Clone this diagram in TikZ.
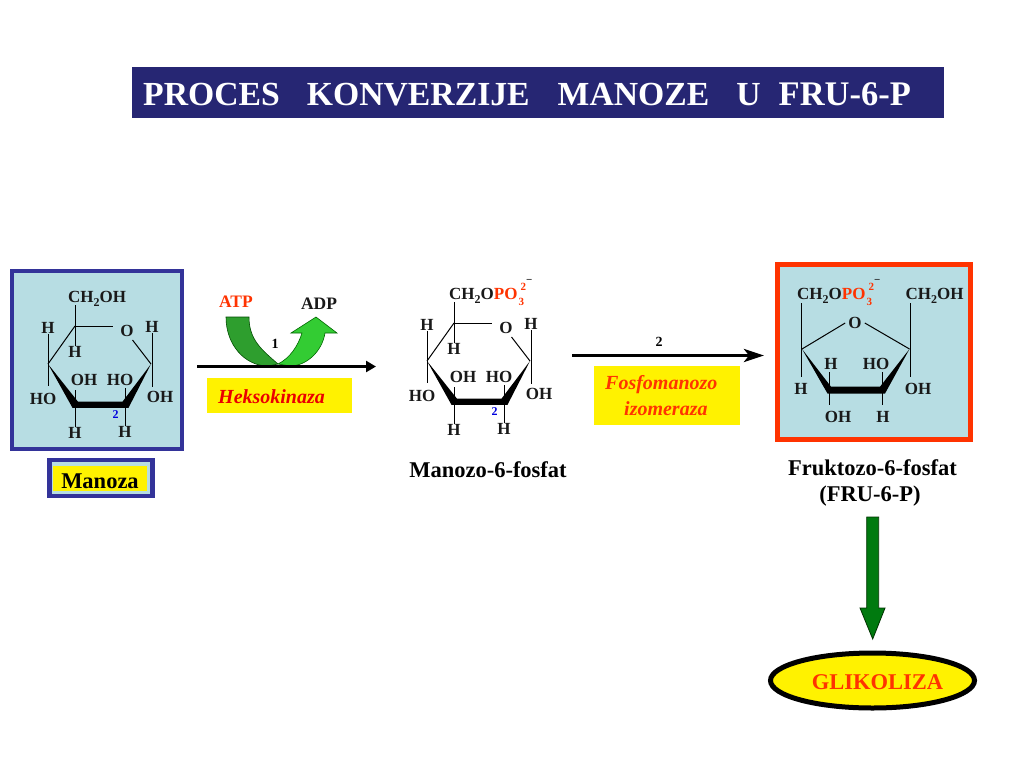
\documentclass[tikz,border=0pt]{standalone}
\usepackage{fontspec}
\setmainfont{Liberation Serif}
\usetikzlibrary{shapes.geometric,arrows.meta}
\definecolor{navy}{HTML}{262673}
\definecolor{frameblue}{HTML}{333399}
\definecolor{paleblue}{HTML}{B7DDE3}
\definecolor{redorange}{HTML}{FF3300}
\definecolor{atpgreen}{HTML}{2E9E2E}
\definecolor{adpgreen}{HTML}{33CC33}
\definecolor{dkgreen}{HTML}{007A0F}
\definecolor{numblue}{HTML}{0000DD}
\tikzset{
  lbl/.style={inner sep=0pt,font=\fontsize{17}{19}\selectfont\bfseries,text=black!90},
  bond/.style={line width=1pt,draw=black},
  wedge/.style={fill=black,draw=none},
  nm/.style={inner sep=0pt,font=\fontsize{22.5}{26}\selectfont\bfseries},
  tiny2/.style={inner sep=0pt,font=\fontsize{12}{13}\selectfont\bfseries,text=numblue},
  num/.style={inner sep=0pt,font=\fontsize{14}{15}\selectfont\bfseries},
  enzyme/.style={inner sep=0pt,font=\fontsize{20}{24}\selectfont\bfseries\itshape,text=redorange,anchor=west},
  rxna/.style={line width=3.5pt,draw=black,-{Triangle[length=10pt,width=11pt]}},
  rxnb/.style={line width=3.5pt,draw=black,-{Stealth[length=20pt,width=13pt,inset=5pt]}},
  yellowbox/.style={fill=yellow,draw=none},
}
\newcommand{\subt}[1]{\raisebox{-3.5pt}{\fontsize{12}{13}\selectfont #1}}
\newcommand{\phosph}{CH\subt{2}O\textcolor{redorange}{PO}\fontsize{11}{12}\selectfont
  \rlap{\hspace{1pt}\raisebox{-5.5pt}{\textcolor{redorange}{3}}}%
  \rlap{\hspace{3pt}\raisebox{9.5pt}{\textcolor{redorange}{2}}}%
  \rlap{\hspace{8.5pt}\raisebox{16pt}{−}}}
\newcommand{\pyranose}{%
  \coordinate (c5) at (75,326);
  \coordinate (c4) at (48,364);
  \coordinate (c1) at (151,364);
  \node[lbl] (o) at (127,331) {O};
  \node[lbl] (h5) at (75,352) {H};
  \node[lbl] (h4) at (48,328) {H};
  \node[lbl] (ho4) at (43,399) {HO};
  \node[lbl] (oh3) at (84,380) {OH};
  \node[lbl] (ho2) at (120,380) {HO};
  \node[lbl] (h1) at (152,327) {H};
  \node[lbl] (oh1) at (160,397) {OH};
  \node[lbl] (h3) at (75,433) {H};
  \node[lbl] (h2) at (125,432) {H};
  \node[tiny2] (n2) at (115.5,415) {2};
  \draw[bond] (c5) -- (h5.north);
  \draw[bond] (75,305) -- (c5);
  \draw[bond] (c5) -- (113,326);
  \draw[bond] (c5) -- (c4);
  \draw[bond] (h4.south) -- (48,386);
  \draw[bond] (132.5,340) -- (c1);
  \draw[bond] (h1.south) -- (152,387);
  \draw[bond] (75,390) -- (h3.north);
  \draw[bond] (125,388) -- (h2.north);
  \fill[wedge] (c4) -- (78,401.7) -- (122.5,401.7) -- (c1) -- (128.5,407.8) -- (72.5,407.8) -- cycle;
}
\begin{document}
\begin{tikzpicture}[x=1pt,y=-1pt]
\useasboundingbox (0,0) rectangle (1024,768);
\fill[white] (0,0) rectangle (1024,768);
% title
\node[fill=navy,minimum width=812pt,minimum height=51pt,inner sep=0pt] (titlebar) at (538,92.5) {};
\node[inner sep=0pt,anchor=west,text=white,font=\fontsize{33.7}{38}\selectfont\bfseries] (title) at (143,94) {PROCES\hspace{27pt}KONVERZIJE\hspace{28pt}MANOZE\hspace{27pt}U\hspace{18pt}{\fontsize{34.5}{38}\selectfont FRU-6-P}};
% Manoza
\node[fill=paleblue,draw=frameblue,line width=4pt,minimum width=170pt,minimum height=178pt,inner sep=0pt] (mbox) at (96.5,359.5) {};
\begin{scope}[name prefix=a-]
\pyranose
\end{scope}
\node[lbl,anchor=base] (a-ch) at (97,302.5) {CH\subt{2}OH};
\node[fill=paleblue,draw=frameblue,line width=4.5pt,minimum width=103pt,minimum height=36pt,inner sep=0pt] (mlabel) at (101,478) {};
\node[yellowbox,minimum width=94pt,minimum height=25pt,inner sep=0pt] (myellow) at (100,478.5) {};
\node[inner sep=0pt,font=\fontsize{22.5}{26}\selectfont\bfseries] (mtext) at (100,481) {Manoza};
% first reaction
\coordinate (r1s) at (197,366.5);
\coordinate (r1e) at (376,366.5);
\coordinate (tip) at (278,364);
\fill[atpgreen,draw=black!70!green,line width=.6pt] (226,317) .. controls (226,345) and (245,366) .. (268,366) -- (tip) .. controls (262,350) and (249,340) .. (249,317) -- cycle;
\fill[adpgreen,draw=black!60!green,line width=.6pt] (tip) .. controls (290,358) and (298,346) .. (302,333) -- (291,333) -- (316,317) -- (337,333) -- (325,333) .. controls (322,352) and (306,366) .. (290,366) -- cycle;
\draw[rxna] (r1s) -- (r1e);
\node[inner sep=0pt,font=\fontsize{17.5}{19}\selectfont\bfseries,text=redorange] (atp) at (236,302) {ATP};
\node[inner sep=0pt,font=\fontsize{17.5}{19}\selectfont\bfseries,text=black!90] (adp) at (319,304) {ADP};
\node[num] (one) at (275,344) {1};
\node[yellowbox,minimum width=145pt,minimum height=35pt,inner sep=0pt] (hbox) at (279.5,395.5) {};
\node[enzyme,text=red!92!black] (htext) at (218,397) {Heksokinaza};
% Manozo-6-fosfat
\begin{scope}[shift={(379,-3)},name prefix=b-]
\pyranose
\end{scope}
\node[lbl,anchor=base west] (b-ch) at (449,299.5) {\phosph};
\node[nm] (mf) at (488,470) {Manozo-6-fosfat};
% second reaction
\coordinate (r2s) at (572,355.5);
\coordinate (r2e) at (764,355.5);
\draw[rxnb] (r2s) -- (r2e);
\node[num] (two) at (659,342) {2};
\node[yellowbox,minimum width=146pt,minimum height=59pt,inner sep=0pt] (fbox) at (667,395.5) {};
\node[enzyme] (f1) at (605,385) {Fosfomanozo};
\node[enzyme] (f2) at (624,409) {izomeraza};
% Fruktozo
\node[fill=paleblue,draw=redorange,line width=5pt,minimum width=193pt,minimum height=175pt,inner sep=0pt] (fr) at (874,352) {};
\coordinate (fl) at (802,349);
\coordinate (frr) at (909.5,349);
\node[lbl,inner sep=3pt] (fo) at (855,323) {O};
\node[lbl,anchor=base west] (fch1) at (797,299.5) {\phosph};
\node[lbl,anchor=base] (fch2) at (934.5,299.5) {CH\subt{2}OH};
\node[lbl] (fh1) at (801,389) {H};
\node[lbl] (foh1) at (918,389) {OH};
\node[lbl] (fh2) at (831,364) {H};
\node[lbl] (fho) at (876,364) {HO};
\node[lbl] (foh2) at (838,417) {OH};
\node[lbl] (fh3) at (883,417) {H};
\draw[bond] (fo.west) -- (fl);
\draw[bond] (fo.east) -- (frr);
\draw[bond] (801.5,303) -- (801.5,377);
\draw[bond] (910,303) -- (910,377);
\draw[bond] (829.5,372) -- (829.5,405);
\draw[bond] (882,372) -- (882,405);
\fill[wedge] (fl) -- (831,386.7) -- (880,386.7) -- (frr) -- (885,393.5) -- (827.5,393.5) -- cycle;
\node[nm] (ff1) at (872.5,468) {Fruktozo-6-fosfat};
\node[nm] (ff2) at (870,496) {(FRU-6-P)};
% glycolysis
\fill[dkgreen,draw=black!80!green,line width=.8pt] (866.7,517) -- (878.7,517) -- (878.7,608) -- (885,608) -- (872.7,639) -- (860,608) -- (866.7,608) -- cycle;
\node[ellipse,fill=yellow,draw=black,line width=5pt,minimum width=204pt,minimum height=55pt,inner sep=0pt] (gl) at (872.5,680.5) {};
\node[inner sep=0pt,text=redorange,font=\fontsize{22.5}{24}\selectfont\bfseries] (gt) at (877.5,682) {GLIKOLIZA};
\end{tikzpicture}
\end{document}
